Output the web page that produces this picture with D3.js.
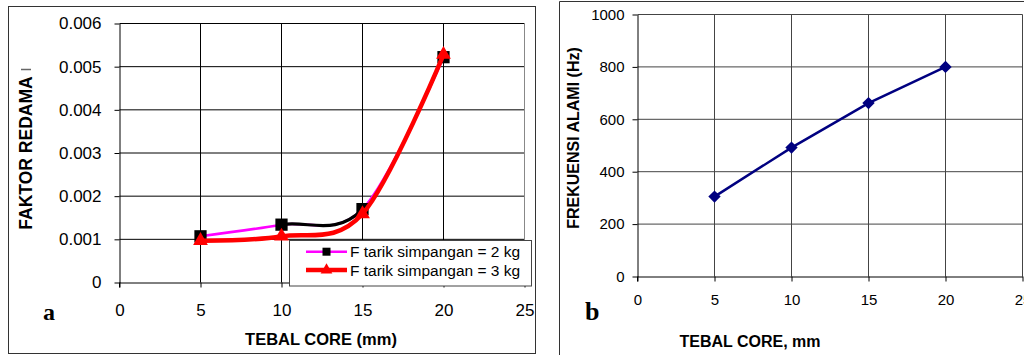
<!DOCTYPE html>
<html><head><meta charset="utf-8">
<script src="https://cdn.jsdelivr.net/npm/d3@7"></script>
<style>body{margin:0;background:#fff}svg{display:block}</style>
</head><body>
<svg id="c" width="1024" height="355"></svg>
<script>
// ---- data ----
const xTicks = [0, 5, 10, 15, 20, 25];
const thickness = [5, 10, 15, 20];
const damping2kg = [0.00107, 0.00134, 0.00170, 0.00522];
const damping3kg = [0.00097, 0.00107, 0.00159, 0.00528];
const yTicksA = [0, 0.001, 0.002, 0.003, 0.004, 0.005, 0.006];
const seriesNames = ["F tarik simpangan = 2 kg", "F tarik simpangan = 3 kg"];
const freq = [305, 492, 662, 800];
const yTicksB = [0, 200, 400, 600, 800, 1000];

const svg = d3.select("#c");
svg.append("rect").attr("width", 1024).attr("height", 355).attr("fill", "#fff");
const SANS = "'Liberation Sans', Arial, sans-serif";
const SERIF = "'Liberation Serif', 'Times New Roman', serif";

// ================= Panel a =================
const xA = d3.scaleLinear().domain([0, 25]).range([119.5, 524.5]);
const yA = d3.scaleLinear().domain([0, 0.006]).range([282.5, 23.5]);
const gA = svg.append("g");

gA.append("rect").attr("x", 8.5).attr("y", 6.5).attr("width", 527).attr("height", 347)
  .attr("fill", "none").attr("stroke", "#333").attr("stroke-width", 1);

// grid
gA.append("g").selectAll("line").data(xTicks.filter(d => d > 0 && d < 25)).join("line")
  .attr("x1", d => xA(d)).attr("x2", d => xA(d)).attr("y1", yA(0)).attr("y2", yA(0.006))
  .attr("stroke", "#000");
gA.append("g").selectAll("line").data(yTicksA.filter(d => d > 0)).join("line")
  .attr("x1", xA(0)).attr("x2", xA(25)).attr("y1", d => yA(d)).attr("y2", d => yA(d))
  .attr("stroke", "#000");
gA.append("line").attr("x1", xA(25)).attr("x2", xA(25)).attr("y1", yA(0.006)).attr("y2", yA(0))
  .attr("stroke", "#888");

// axes
const axAL = gA.append("g").attr("transform", `translate(${xA(0)},0)`)
  .call(d3.axisLeft(yA).tickValues(yTicksA).tickSize(5).tickSizeOuter(0).tickPadding(13)
    .tickFormat(d => d === 0 ? "0" : d3.format(".3f")(d)));
const axAB = gA.append("g").attr("transform", `translate(0,${yA(0)})`)
  .call(d3.axisBottom(xA).tickValues(xTicks).tickSize(5).tickSizeOuter(0).tickPadding(16));
[axAL, axAB].forEach(a => {
  a.attr("font-size", null).attr("font-family", null);
  a.selectAll("text").style("font-family", SANS).style("font-size", "17px").attr("fill", "#000");
  a.selectAll("line,path").attr("stroke", "#000");
});
gA.append("line").attr("x1", xA(0)).attr("x2", xA(0)).attr("y1", yA(0)).attr("y2", yA(0) + 5).attr("stroke", "#000");

// legend box
const leg = gA.append("g");
leg.append("rect").attr("x", 289.5).attr("y", 240.5).attr("width", 242).attr("height", 45.5)
  .attr("fill", "#fff").attr("stroke", "#444");

// series
const ptsA1 = thickness.map((t, i) => [t, damping2kg[i]]);
const ptsA2 = thickness.map((t, i) => [t, damping3kg[i]]);
const lineA = d3.line().x(d => xA(d[0])).y(d => yA(d[1])).curve(d3.curveCardinal.tension(0));

gA.append("clipPath").attr("id", "seg").append("rect")
  .attr("x", xA(thickness[1])).attr("y", 0).attr("width", xA(thickness[2]) - xA(thickness[1])).attr("height", 355);

gA.append("path").attr("d", lineA(ptsA1)).attr("fill", "none").attr("stroke", "#ff00ff").attr("stroke-width", 2.5);
gA.append("path").attr("d", lineA(ptsA1)).attr("fill", "none").attr("stroke", "#000").attr("stroke-width", 3.2)
  .attr("clip-path", "url(#seg)");
gA.append("g").selectAll("path").data(ptsA1).join("path")
  .attr("d", d3.symbol(d3.symbolSquare, 150)())
  .attr("transform", d => `translate(${xA(d[0])},${yA(d[1])})`).attr("fill", "#000");
gA.append("path").attr("d", lineA(ptsA2)).attr("fill", "none").attr("stroke", "#ff0000").attr("stroke-width", 4.5);
gA.append("g").selectAll("path").data(ptsA2).join("path")
  .attr("d", d3.symbol(d3.symbolTriangle, 95)())
  .attr("transform", d => `translate(${xA(d[0])},${yA(d[1])})`).attr("fill", "#ff0000");

// legend entries
const legY = [251.7, 270];
leg.raise();
const le = leg.selectAll("g.e").data(seriesNames).join("g").attr("class", "e")
  .attr("transform", (d, i) => `translate(0,${legY[i]})`);
le.append("line").attr("x1", 306).attr("x2", 347).attr("y1", 0).attr("y2", 0)
  .attr("stroke", (d, i) => i === 0 ? "#ff00ff" : "#ff0000").attr("stroke-width", (d, i) => i === 0 ? 2.5 : 4.5);
le.append("path").attr("transform", "translate(326.5,0)")
  .attr("d", (d, i) => i === 0 ? d3.symbol(d3.symbolSquare, 64)() : d3.symbol(d3.symbolTriangle, 60)())
  .attr("fill", (d, i) => i === 0 ? "#000" : "#ff0000");
le.append("text").attr("x", 350).attr("y", 5.5).text(d => d)
  .attr("font-family", SANS).attr("font-size", 15.5).attr("fill", "#000");

// titles
gA.append("text").attr("x", 321).attr("y", 345).attr("text-anchor", "middle")
  .attr("font-family", SANS).attr("font-weight", "bold").attr("font-size", 16.5).text("TEBAL CORE (mm)");
gA.append("text").attr("transform", "translate(32,153) rotate(-90)").attr("text-anchor", "middle")
  .attr("font-family", SANS).attr("font-weight", "bold").attr("font-size", 17.5).text("FAKTOR REDAMA");
gA.append("line").attr("x1", 21).attr("x2", 31).attr("y1", 69.5).attr("y2", 69.5).attr("stroke", "#666").attr("stroke-width", 1.5);
gA.append("text").attr("x", 43).attr("y", 320).attr("font-family", SERIF).attr("font-weight", "bold")
  .attr("font-size", 24).text("a");

// ================= Panel b =================
const xB = d3.scaleLinear().domain([0, 25]).range([637.5, 1022.5]);
const yB = d3.scaleLinear().domain([0, 1000]).range([276.5, 14.5]);
const gB = svg.append("g");
gB.append("path").attr("d", "M559.5,355V1.5H1024").attr("fill", "none").attr("stroke", "#333");

gB.append("g").selectAll("line").data(xTicks.filter(d => d > 0)).join("line")
  .attr("x1", d => xB(d)).attr("x2", d => xB(d)).attr("y1", yB(0)).attr("y2", yB(1000))
  .attr("stroke", "#444");
gB.append("g").selectAll("line").data(yTicksB.filter(d => d > 0)).join("line")
  .attr("x1", xB(0)).attr("x2", xB(25)).attr("y1", d => yB(d)).attr("y2", d => yB(d))
  .attr("stroke", "#444");

const axBL = gB.append("g").attr("transform", `translate(${xB(0)},0)`)
  .call(d3.axisLeft(yB).tickValues(yTicksB).tickSize(5).tickSizeOuter(0).tickPadding(8).tickFormat(d3.format("d")));
const axBB = gB.append("g").attr("transform", `translate(0,${yB(0)})`)
  .call(d3.axisBottom(xB).tickValues(xTicks).tickSize(5).tickSizeOuter(0).tickPadding(13));
[axBL, axBB].forEach(a => {
  a.attr("font-size", null).attr("font-family", null);
  a.selectAll("text").style("font-family", SANS).style("font-size", "15px").attr("fill", "#000");
  a.selectAll("line,path").attr("stroke", "#000");
});
gB.append("line").attr("x1", xB(0)).attr("x2", xB(0)).attr("y1", yB(0)).attr("y2", yB(0) + 5).attr("stroke", "#000");

const ptsB = thickness.map((t, i) => [t, freq[i]]);
gB.append("path").attr("d", d3.line().x(d => xB(d[0])).y(d => yB(d[1]))(ptsB))
  .attr("fill", "none").attr("stroke", "#000080").attr("stroke-width", 2.5);
gB.append("g").selectAll("path").data(ptsB).join("path")
  .attr("d", d3.symbol(d3.symbolSquare, 76)())
  .attr("transform", d => `translate(${xB(d[0])},${yB(d[1])}) rotate(45)`).attr("fill", "#000080");

gB.append("text").attr("x", 750).attr("y", 347).attr("text-anchor", "middle")
  .attr("font-family", SANS).attr("font-weight", "bold").attr("font-size", 16).text("TEBAL CORE, mm");
gB.append("text").attr("transform", "translate(579,138) rotate(-90)").attr("text-anchor", "middle")
  .attr("font-family", SANS).attr("font-weight", "bold").attr("font-size", 16).text("FREKUENSI ALAMI (Hz)");
gB.append("text").attr("x", 585).attr("y", 320).attr("font-family", SERIF).attr("font-weight", "bold")
  .attr("font-size", 26).text("b");
</script>
</body></html>
